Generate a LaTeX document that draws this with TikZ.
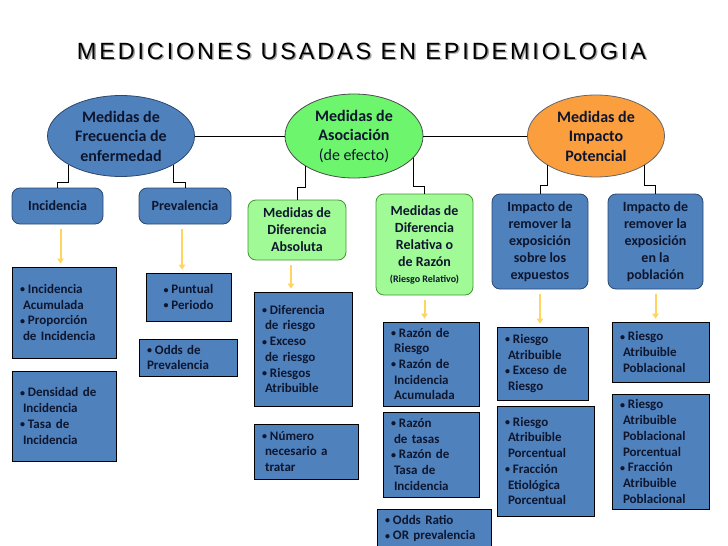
\documentclass[tikz,border=0pt]{standalone}
\usepackage{fontspec}
\setmainfont{Carlito}
\newfontfamily\titlefont[LetterSpace=12]{Liberation Sans}
\usepackage{tikz}
\usetikzlibrary{positioning,arrows.meta,shapes.geometric,calc}
\definecolor{boxblue}{RGB}{79,129,189}
\definecolor{navyline}{RGB}{44,72,110}
\definecolor{textnavy}{RGB}{14,22,46}
\definecolor{assocgreen}{RGB}{110,245,110}
\definecolor{lightgreen}{RGB}{160,250,150}
\definecolor{greenline}{RGB}{70,150,50}
\definecolor{impactorange}{RGB}{250,158,62}
\definecolor{arrowgold}{RGB}{255,212,95}
\definecolor{shadowgray}{RGB}{165,165,165}
\newcommand{\itemdot}{{\fontsize{10}{10}\selectfont\raisebox{0.6pt}{\textbullet}}\hspace{3pt}}
\newcommand{\itemcont}{\hspace*{3pt}}
\tikzset{
  title-text/.style={font=\titlefont\fontsize{23.5}{27}\selectfont, inner sep=0pt},
  measure-node/.style={ellipse, draw=navyline, line width=0.8pt, inner sep=0pt,
    font=\fontsize{16}{19.5}\selectfont\bfseries, text=textnavy, align=center},
  group-node/.style={draw=navyline, line width=0.8pt, fill=boxblue, rounded corners=8pt,
    font=\fontsize{14}{17}\selectfont\bfseries, text=textnavy, align=center, inner sep=2pt},
  effect-node/.style={group-node, draw=greenline, fill=lightgreen},
  list-box/.style={draw=black, line width=0.8pt, fill=boxblue, inner xsep=8pt, inner ysep=2pt,
    font=\fontsize{13}{15.7}\selectfont\bfseries, text=textnavy, align=left},
  link-line/.style={draw=black, line width=0.8pt},
  down-arrow/.style={draw=arrowgold, line width=2pt, -{Triangle[length=5pt,width=6.5pt]},
    shorten <=5pt, shorten >=3pt}
}
\begin{document}
\begin{tikzpicture}[x=1pt, y=-1pt]
\useasboundingbox (0,0) rectangle (728,546);

% Title with its shadow
\node[title-text, text=shadowgray] (title-shadow) at (363,52.5) {MEDICIONES USADAS EN EPIDEMIOLOGIA};
\node[title-text] (title) at (361.5,51) {MEDICIONES USADAS EN EPIDEMIOLOGIA};

% Top level: the three groups of measures
\node[measure-node, fill=boxblue, minimum width=147pt, minimum height=81pt] (frec) at (121,136) {Medidas de\\Frecuencia de\\enfermedad};
\node[measure-node, fill=assocgreen, draw=black!70, minimum width=138pt, minimum height=84pt] (asoc) at (354,136) {Medidas de\\Asociación\\{\mdseries (de efecto)}};
\node[measure-node, fill=impactorange, draw=black!60, minimum width=137pt, minimum height=82pt] (impac) at (596,136) {Medidas de\\Impacto\\Potencial};

\draw[link-line] (frec.east) -- (asoc.west);
\draw[link-line] (asoc.east) -- (impac.west);

% Second level
\node[group-node, minimum width=91pt, minimum height=36pt] (inc) at (57.5,206) {Incidencia};
\node[group-node, minimum width=92pt, minimum height=36pt] (prev) at (185,206) {Prevalencia};
\node[effect-node, minimum width=98pt, minimum height=60pt] (abs) at (297,230) {Medidas de\\Diferencia\\Absoluta};
\node[effect-node, minimum width=97pt, minimum height=101pt] (rel) at (424.5,244.5) {Medidas de\\Diferencia\\Relativa o\\de Razón\\[-1pt]{\fontsize{10}{12}\selectfont(Riesgo Relativo)}};
\node[group-node, minimum width=96pt, minimum height=95pt] (expu) at (540,241.5) {Impacto de\\remover la\\exposición\\sobre los\\expuestos};
\node[group-node, minimum width=95pt, minimum height=95pt] (pobl) at (655.5,241.5) {Impacto de\\remover la\\exposición\\en la\\población};

% Elbow links from the groups
\draw[link-line] (frec.south west) |- ([yshift=5pt]inc.north) -- (inc.north);
\draw[link-line] (frec.south east) |- ([yshift=5pt]prev.north) -- (prev.north);
\draw[link-line] (asoc.south west) |- ([yshift=12pt]abs.north) -- (abs.north);
\draw[link-line] (asoc.-20) |- ([yshift=7pt]rel.north) -- (rel.north);
\draw[link-line] (impac.south west) |- ([yshift=8pt]expu.north) -- (expu.north);
\draw[link-line] (impac.south east) |- ([yshift=8pt]pobl.north) -- (pobl.north);

% Lists of measures
\node[list-box, minimum height=91pt, text width=88pt] (incacum) at (64,312.5) {\itemdot Incidencia\\\itemcont Acumulada\\\itemdot Proporción\\\itemcont de Incidencia};
\node[list-box, minimum height=90pt, text width=88pt] (densidad) at (64,416) {\itemdot Densidad de\\\itemcont Incidencia\\\itemdot Tasa de\\\itemcont Incidencia};
\node[list-box, minimum height=48pt, minimum width=85pt] (puntual) at (188.5,297) {\itemdot Puntual\\\itemdot Periodo};
\node[list-box, minimum height=37pt, text width=82pt] (oddsprev) at (188,357.5) {\itemdot Odds de\\Prevalencia};
\node[list-box, minimum height=114pt, text width=82pt] (difriesgo) at (303,349) {\itemdot Diferencia\\\itemcont de riesgo\\\itemdot Exceso\\\itemcont de riesgo\\\itemdot Riesgos\\\itemcont Atribuible};
\node[list-box, minimum height=55pt, text width=88pt] (numero) at (306,451.5) {\itemdot Número\\\itemcont necesario a\\\itemcont tratar};
\node[list-box, minimum height=84pt, text width=80pt] (razriesgo) at (431,364) {\itemdot Razón de\\\itemcont Riesgo\\\itemdot Razón de\\\itemcont Incidencia\\\itemcont Acumulada};
\node[list-box, minimum height=85pt, text width=80pt] (raztasas) at (431,454.5) {\itemdot Razón\\\itemcont de tasas\\\itemdot Razón de\\\itemcont Tasa de\\\itemcont Incidencia};
\node[list-box, minimum height=39pt, text width=98pt] (oddsratio) at (434,528.5) {\itemdot Odds Ratio\\\itemdot OR prevalencia};
\node[list-box, minimum height=73pt, text width=75pt] (raexceso) at (542.5,363.5) {\itemdot Riesgo\\\itemcont Atribuible\\\itemdot Exceso de\\\itemcont Riesgo};
\node[list-box, minimum height=110pt, text width=81pt] (raporc) at (545.5,461) {\itemdot Riesgo\\\itemcont Atribuible\\\itemcont Porcentual\\\itemdot Fracción\\\itemcont Etiológica\\\itemcont Porcentual};
\node[list-box, minimum height=60pt, text width=81pt] (rapobl) at (660.5,352) {\itemdot Riesgo\\\itemcont Atribuible\\\itemcont Poblacional};
\node[list-box, minimum height=115pt, text width=81pt] (rapoblporc) at (660.5,451.5) {\itemdot Riesgo\\\itemcont Atribuible\\\itemcont Poblacional\\\itemcont Porcentual\\\itemdot Fracción\\\itemcont Atribuible\\\itemcont Poblacional};

% Yellow arrows down to the lists
\draw[down-arrow] ([xshift=3pt]inc.south) -- ([xshift=3pt]inc.south |- incacum.north);
\draw[down-arrow] ([xshift=-3pt]prev.south) -- ([xshift=-3pt]prev.south |- puntual.north);
\draw[down-arrow] ([xshift=-6pt]abs.south) -- ([xshift=-6pt]abs.south |- difriesgo.north);
\draw[down-arrow] (rel.south) -- (rel.south |- razriesgo.north);
\draw[down-arrow] (expu.south) -- (expu.south |- raexceso.north);
\draw[down-arrow] (pobl.south) -- (pobl.south |- rapobl.north);
\end{tikzpicture}
\end{document}
